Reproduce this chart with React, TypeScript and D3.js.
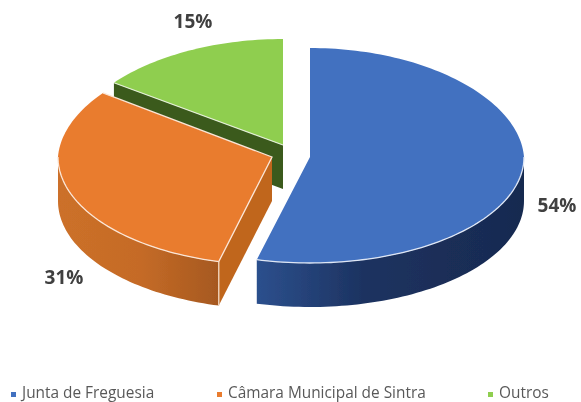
import React from "react";
import { pie, line, range } from "d3";

const categories = ["Junta de Freguesia", "Câmara Municipal de Sintra", "Outros"];
const values = [54, 31, 15];
const topColors = ["#4271c0", "#e97b2f", "#8fce4f"];

const width = 581;
const height = 402;

// each slice is pulled out of the pie, so it has its own centre.
// the far half of the ellipse is a bit different from the near half (perspective)
const centers = [
  { x: 310, y: 157, rx: 214, ryBack: 109, ryFront: 106 },
  { x: 272, y: 157, rx: 214, ryBack: 109, ryFront: 108 },
  { x: 283, y: 145, rx: 214, ryBack: 106, ryFront: 106 },
];
const depth = 44;
const backNarrowing = 0.04;
const labelPos = [
  { x: 557, y: 212 },
  { x: 64, y: 284 },
  { x: 193, y: 28 },
];
const legendX = [11, 217, 488];
const legendY = 392;

const slices = pie<number>().sort(null)(values);
const path = line();

function project(i: number, a: number, dy = 0): [number, number] {
  const c = centers[i];
  const cos = Math.cos(a);
  const rx = c.rx * (1 - backNarrowing * Math.max(0, cos));
  const ry = cos > 0 ? c.ryBack : c.ryFront;
  return [c.x + rx * Math.sin(a), c.y - ry * cos + dy];
}

function arcPoints(i: number, a0: number, a1: number, dy = 0) {
  const n = Math.max(2, Math.ceil(Math.abs(a1 - a0) * 40));
  return range(n + 1).map(k => project(i, a0 + ((a1 - a0) * k) / n, dy));
}

const apex = (i: number, dy = 0): [number, number] => [centers[i].x, centers[i].y + dy];

function topPath(i: number) {
  const s = slices[i];
  return path([apex(i), ...arcPoints(i, s.startAngle, s.endAngle)]) + "Z";
}

// outer wall for the part of the rim that faces the viewer
function rimPath(i: number, a0: number, a1: number) {
  const upper = arcPoints(i, a0, a1);
  const lower = arcPoints(i, a1, a0, depth);
  return path([...upper, ...lower]) + "Z";
}

// flat cut face going from the centre to the rim at angle a
function cutPath(i: number, a: number) {
  const p = project(i, a);
  const q = project(i, a, depth);
  return path([apex(i), p, q, apex(i, depth)]) + "Z";
}

export default function App() {
  const [blue, orange, green] = slices;
  const right = Math.PI / 2;
  const left = (3 * Math.PI) / 2;

  return (
    <svg
      width={width}
      height={height}
      style={{ position: "absolute", left: 0, top: 0, background: "#fff" }}
      fontFamily="'Open Sans', sans-serif"
    >
      <defs>
        <linearGradient id="blueSide" gradientUnits="userSpaceOnUse" x1="259" x2="524" y1="0" y2="0">
          <stop offset="0" stopColor="#2c4f8c" />
          <stop offset="0.4" stopColor="#1c3260" />
          <stop offset="1" stopColor="#182a50" />
        </linearGradient>
        <linearGradient id="orangeSide" gradientUnits="userSpaceOnUse" x1="58" x2="221" y1="0" y2="0">
          <stop offset="0" stopColor="#cc7029" />
          <stop offset="0.5" stopColor="#c56b27" />
          <stop offset="1" stopColor="#a5581f" />
        </linearGradient>
        <filter id="soft" filterUnits="userSpaceOnUse" x={0} y={0} width={width} height={height}>
          <feGaussianBlur stdDeviation="0.45" />
        </filter>
      </defs>

      <g filter="url(#soft)">
        {/* green slice, at the back */}
        <path d={cutPath(2, green.startAngle)} fill="#3b5a1e" />
        <path d={topPath(2)} fill={topColors[2]} />
        <path
          d={path([project(2, green.startAngle), apex(2)]) ?? ""}
          fill="none"
          stroke="#e4f0d6"
          strokeWidth={1.2}
        />

        {/* orange slice */}
        <path d={rimPath(1, orange.startAngle, left)} fill="url(#orangeSide)" />
        <path d={cutPath(1, orange.startAngle)} fill="#c0661f" />
        <path d={topPath(1)} fill={topColors[1]} />
        <path
          d={path([project(1, orange.endAngle), apex(1), ...arcPoints(1, orange.startAngle, left)]) ?? ""}
          fill="none"
          stroke="#fbe6d6"
          strokeWidth={1.3}
        />
        <path
          d={path([project(1, orange.startAngle), project(1, orange.startAngle, depth)]) ?? ""}
          fill="none"
          stroke="#f3d9c4"
          strokeWidth={1.3}
        />

        {/* blue slice, in front */}
        <path d={rimPath(0, right, blue.endAngle)} fill="url(#blueSide)" />
        <path d={topPath(0)} fill={topColors[0]} />
        <path
          d={path(arcPoints(0, right, blue.endAngle)) ?? ""}
          fill="none"
          stroke="#dfe7f5"
          strokeWidth={1.3}
        />

        {values.map((v, i) => (
          <text
            key={categories[i]}
            x={labelPos[i].x}
            y={labelPos[i].y}
            textAnchor="middle"
            fontSize={19}
            fontWeight={700}
            fill="#404040"
          >
            {v}%
          </text>
        ))}

        {categories.map((name, i) => (
          <g key={name}>
            <rect x={legendX[i]} y={legendY} width={5} height={5} fill={topColors[i]} />
            <text x={legendX[i] + 11} y={legendY + 6} fontSize={15.4} fill="#595959">
              {name}
            </text>
          </g>
        ))}
      </g>
    </svg>
  );
}
